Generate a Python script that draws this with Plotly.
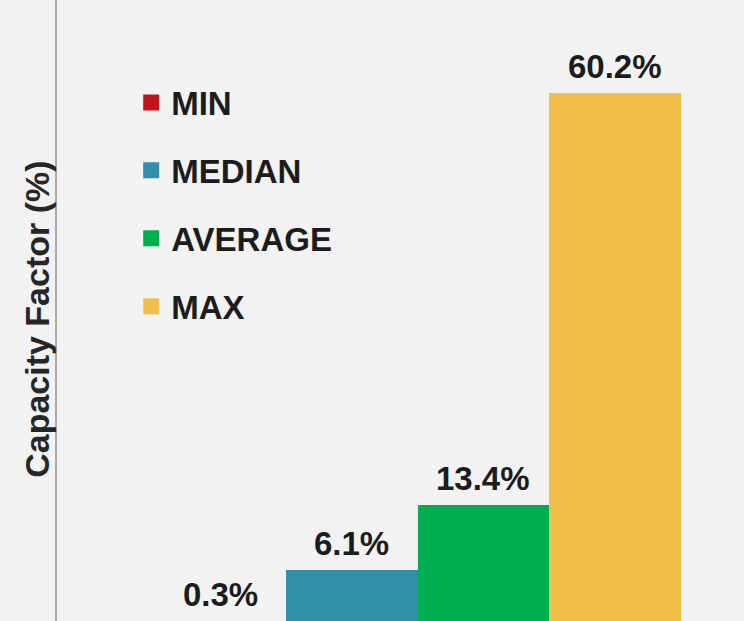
import plotly.graph_objects as go

# values
categories = ["MIN", "MEDIAN", "AVERAGE", "MAX"]
capacity_factor = [0.3, 6.1, 13.4, 60.2]
bar_colors = ["#C0141C", "#2F90A8", "#00AF50", "#F2BF4A"]
y_title = "Capacity Factor (%)"

FONT = "Liberation Sans, Arial, sans-serif"
TEXT_COLOR = "#1c1c1c"
BG = "#F2F2F2"

fig = go.Figure()

# the bars themselves
fig.add_trace(go.Bar(
    x=categories,
    y=capacity_factor,
    marker=dict(color=bar_colors, line=dict(width=0)),
    showlegend=False,
    hoverinfo="skip",
))

# value labels above each bar
for cat, val in zip(categories, capacity_factor):
    fig.add_annotation(
        x=cat, y=val,
        text=f"<b>{val:.1f}%</b>",
        showarrow=False,
        yanchor="bottom",
        yshift=6,
        font=dict(family=FONT, size=33, color=TEXT_COLOR),
    )

# legend entries (square swatches)
for name, color in zip(categories, bar_colors):
    fig.add_trace(go.Scatter(
        x=[None], y=[None],
        mode="markers",
        marker=dict(symbol="square", size=17, color=color),
        name=f"<b>{name}</b>",
        legendgroup=name,
        showlegend=True,
    ))

# y axis title, placed a little below the plot centre as in the original
fig.add_annotation(
    xref="paper", yref="paper",
    x=-0.0291, y=0.485,
    text=f"<b>{y_title}</b>",
    textangle=-90,
    showarrow=False,
    xanchor="center", yanchor="middle",
    font=dict(family=FONT, size=34, color="#262626"),
)

fig.update_layout(
    width=744,
    height=621,
    margin=dict(l=57, r=0, t=0, b=0),
    paper_bgcolor=BG,
    plot_bgcolor=BG,
    bargap=0,
    font=dict(family=FONT, color=TEXT_COLOR),
    legend=dict(
        x=0.108, y=0.88,
        xanchor="left", yanchor="top",
        bgcolor="rgba(0,0,0,0)",
        traceorder="grouped",
        tracegroupgap=22,
        font=dict(family=FONT, size=33, color=TEXT_COLOR),
    ),
    xaxis=dict(
        range=[-1.24, 3.98],
        visible=False,
        fixedrange=True,
    ),
    yaxis=dict(
        range=[0.3, 70.7],
        showline=True,
        linecolor="#ABABAB",
        linewidth=2,
        showgrid=False,
        zeroline=False,
        showticklabels=False,
        ticks="",
        fixedrange=True,
    ),
)

# drop the browser's default page margin so the figure sits flush in the window
fig.write_html(
    "out.html",
    config={"displayModeBar": False},
    post_script="document.body.style.margin='0';document.body.style.background='#F2F2F2';",
)
